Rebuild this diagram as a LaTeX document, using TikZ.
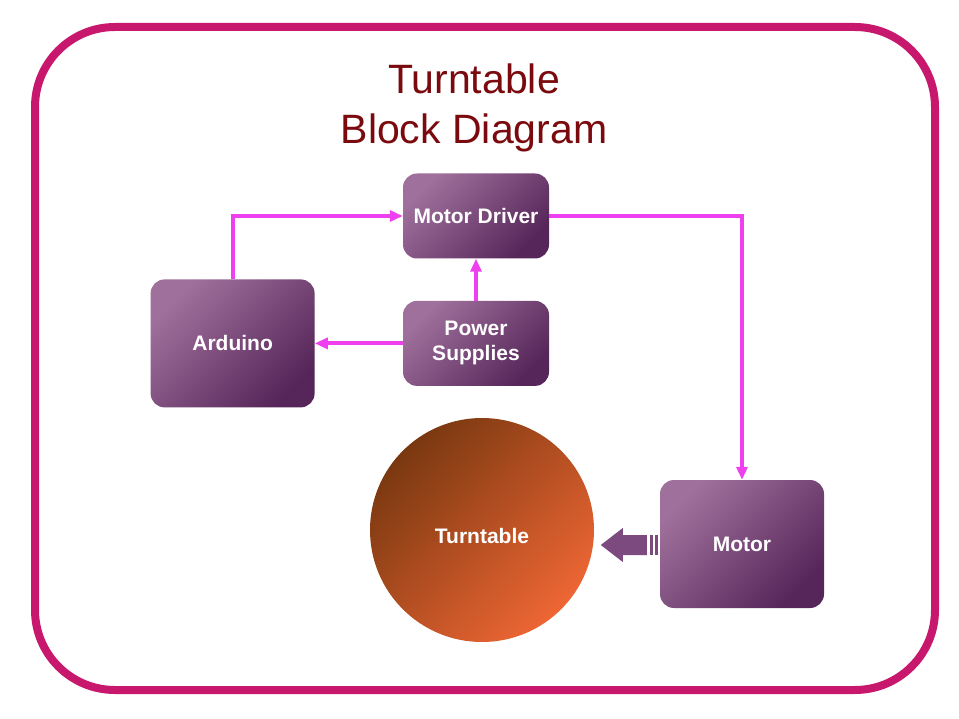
\documentclass[tikz,border=0pt]{standalone}
\usepackage{fontspec}
\setmainfont{Liberation Sans}
\usetikzlibrary{arrows.meta,positioning,calc}
\definecolor{Frame}{HTML}{C8186E}
\definecolor{TitleRed}{HTML}{7A0A0E}
\definecolor{PlumLight}{HTML}{A0709C}
\definecolor{PlumDark}{HTML}{56265A}
\definecolor{Rust}{HTML}{7A3810}
\definecolor{Tangerine}{HTML}{EE6634}
\definecolor{Wire}{HTML}{EE40EE}
\definecolor{Gear}{HTML}{7C4A7E}

\begin{document}
\begin{tikzpicture}[
  x=1pt,y=-1pt,
  node distance=42pt and 88pt,
  block/.style={
    rounded corners=14pt,
    top color=PlumLight,
    bottom color=PlumDark,
    shading angle=45,
    minimum width=146pt,
    minimum height=85pt,
    align=center,
    text=white,
    font=\fontsize{21}{25}\selectfont\bfseries
  },
  bigblock/.style={
    block,
    minimum width=164pt,
    minimum height=128pt
  },
  disc/.style={
    circle,
    inner sep=0pt,
    minimum size=224pt,
    top color=Rust,
    bottom color=Tangerine,
    shading angle=45,
    text height=26pt,
    text depth=0pt,
    text=white,
    font=\fontsize{21}{25}\selectfont\bfseries
  },
  wire/.style={-{Triangle[length=13pt,width=11pt]},line width=4pt,color=Wire},
  title/.style={align=center,text=TitleRed,font=\fontsize{41}{50}\selectfont}
]
\useasboundingbox (0,0) rectangle (959,719);
\fill[white] (0,0) rectangle (959,719);
\draw[Frame,line width=8pt,rounded corners=80pt] (35,27) rectangle (935,690);

\node[title] (title) at (474,108) {Turntable\\Block Diagram};

\node[block] (mdriver) at (476,216) {Motor Driver};
\node[block,below=of mdriver] (psupply) {Power\\Supplies};
\node[bigblock,left=of psupply] (arduino) {Arduino};
\node[bigblock] (motor) at (742,544) {Motor};
\node[disc] (turntable) at (482,530) {Turntable};

\draw[wire] (arduino.north) |- (mdriver.west);
\draw[wire] (mdriver.east) -| (motor.north);
\draw[wire] (psupply.north) -- (mdriver.south);
\draw[wire] (psupply.west) -- (arduino.east);

% striped block arrow from motor to turntable
\fill[Gear] ($(motor.west)+(-59,1)$) -- ($(motor.west)+(-37,-16)$) -- ($(motor.west)+(-37,-9)$)
  -- ($(motor.west)+(-13,-9)$) -- ($(motor.west)+(-13,11)$) -- ($(motor.west)+(-37,11)$)
  -- ($(motor.west)+(-37,18)$) -- cycle;
\fill[Gear] ($(motor.west)+(-10,-9)$) rectangle ($(motor.west)+(-7,11)$);
\fill[Gear] ($(motor.west)+(-5,-9)$) rectangle ($(motor.west)+(-2,11)$);
\end{tikzpicture}
\end{document}
